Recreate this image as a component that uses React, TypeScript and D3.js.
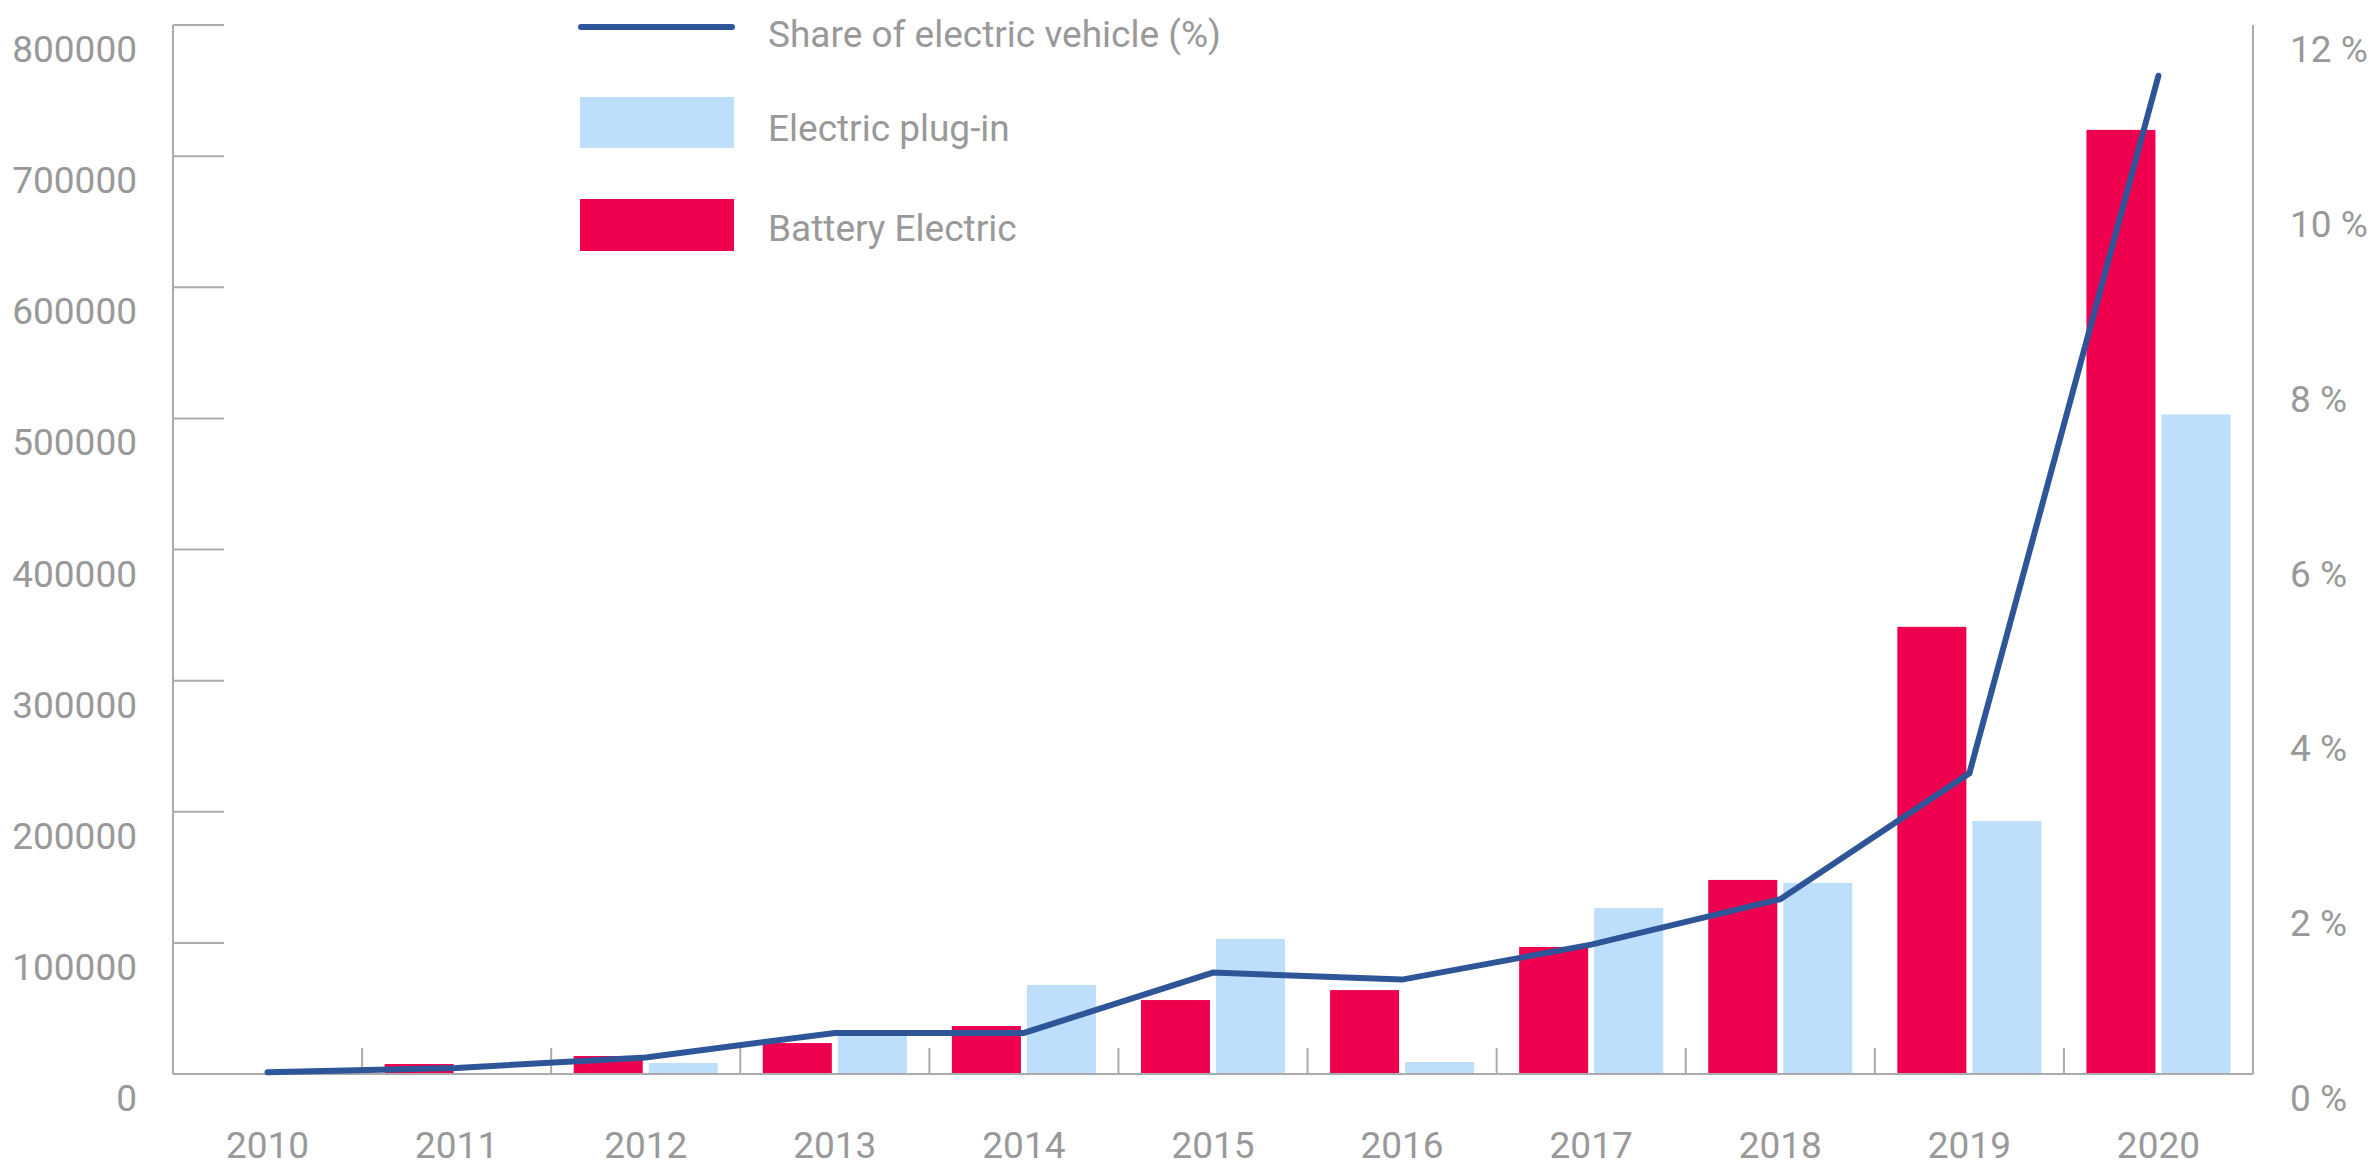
import React from "react";
import * as d3 from "d3";

const years = ["2010", "2011", "2012", "2013", "2014", "2015", "2016", "2017", "2018", "2019", "2020"];
const batteryElectric = [0, 7600, 13700, 23600, 36600, 56400, 64000, 96900, 148000, 341000, 720000];
const electricPlugIn = [0, 0, 8400, 32800, 67900, 103000, 9150, 126600, 145700, 193000, 503000];
const shareEV = [0.02, 0.07, 0.19, 0.47, 0.47, 1.16, 1.08, 1.48, 2.0, 3.44, 11.42];
const leftTicks = [0, 100000, 200000, 300000, 400000, 500000, 600000, 700000, 800000];
const rightTicks = [0, 2, 4, 6, 8, 10, 12];
const seriesKeys = ["bev", "phev"];
const legendLabels = ["Share of electric vehicle (%)", "Electric plug-in", "Battery Electric"];

const W = 2374;
const H = 1167;
const RED = "#EF004F";
const BLUE = "#BEDFFC";
const LINE = "#2E5598";
const AXIS = "#ABABAB";
const TEXT = "#999999";
const FONT = "Roboto, 'Noto Sans', sans-serif";
const FS = 37;

export default function App() {
  const left = 173, right = 2253, top = 25, bottom = 1074;
  const x = d3.scaleBand<string>().domain(years).range([left, right]).padding(0);
  const x1 = d3.scaleBand<string>().domain(seriesKeys).range([0, x.bandwidth()]).paddingInner(0.08).paddingOuter(0.3);
  const y = d3.scaleLinear().domain([0, 800000]).range([bottom, top]);
  const y2 = d3.scaleLinear().domain([0, 12]).range([bottom, top]);

  const lineGen = d3
    .line<number>()
    .x((_, i) => (x(years[i]) as number) + x.bandwidth() / 2)
    .y((d) => y2(d));

  const fmt = d3.format("d");
  const labelOffset = 24 + 13;

  return (
    <svg width={W} height={H} style={{ position: "absolute", left: 0, top: 0, background: "#fff" }} fontFamily={FONT}>
      {/* bars */}
      {years.map((yr, i) => (
        <g key={yr} transform={`translate(${x(yr)},0)`}>
          {batteryElectric[i] > 0 && (
            <rect x={x1("bev")} width={x1.bandwidth()} y={y(batteryElectric[i])} height={bottom - y(batteryElectric[i])} fill={RED} />
          )}
          {electricPlugIn[i] > 0 && (
            <rect x={x1("phev")} width={x1.bandwidth()} y={y(electricPlugIn[i])} height={bottom - y(electricPlugIn[i])} fill={BLUE} />
          )}
        </g>
      ))}

      {/* axes */}
      <line x1={left} x2={left} y1={top} y2={bottom} stroke={AXIS} strokeWidth={2} />
      <line x1={right} x2={right} y1={top} y2={bottom} stroke={AXIS} strokeWidth={2} />
      <line x1={left} x2={right} y1={bottom} y2={bottom} stroke={AXIS} strokeWidth={2} />
      {leftTicks.map((t) => (
        <g key={t}>
          <line x1={left} x2={left + 51} y1={y(t)} y2={y(t)} stroke={AXIS} strokeWidth={2} />
          <text x={137} y={y(t) + labelOffset} textAnchor="end" fontSize={FS} fill={TEXT}>
            {fmt(t)}
          </text>
        </g>
      ))}
      {rightTicks.map((t) => (
        <text key={t} x={2290} y={y2(t) + labelOffset} textAnchor="start" fontSize={FS} fill={TEXT}>
          {`${t} %`}
        </text>
      ))}
      {years.slice(1).map((yr) => (
        <line key={yr} x1={x(yr)} x2={x(yr)} y1={bottom - 26} y2={bottom} stroke={AXIS} strokeWidth={2} />
      ))}
      {years.map((yr) => (
        <text key={yr} x={(x(yr) as number) + x.bandwidth() / 2} y={1158} textAnchor="middle" fontSize={FS} fill={TEXT}>
          {yr}
        </text>
      ))}

      {/* line */}
      <path d={lineGen(shareEV) || ""} fill="none" stroke={LINE} strokeWidth={6} strokeLinecap="round" strokeLinejoin="miter" />

      {/* legend */}
      <g>
        <line x1={581} x2={732} y1={27} y2={27} stroke={LINE} strokeWidth={6} strokeLinecap="round" />
        <text x={768} y={47} fontSize={FS} fill={TEXT}>{legendLabels[0]}</text>
        <rect x={580} y={97} width={154} height={51} fill={BLUE} />
        <text x={768} y={141} fontSize={FS} fill={TEXT}>{legendLabels[1]}</text>
        <rect x={580} y={199} width={154} height={52} fill={RED} />
        <text x={768} y={241} fontSize={FS} fill={TEXT}>{legendLabels[2]}</text>
      </g>
    </svg>
  );
}
